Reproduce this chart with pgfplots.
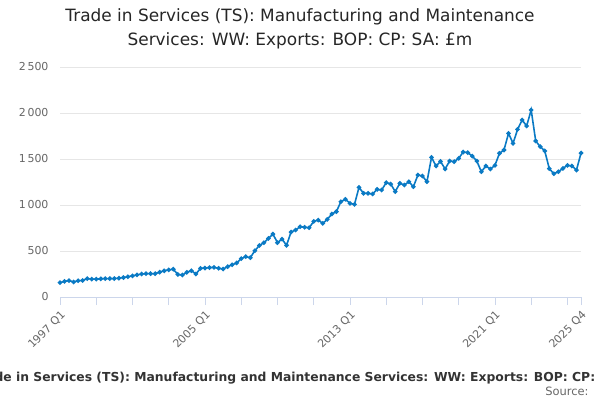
\documentclass[border=0pt]{standalone}
\usepackage{pgfplots}
\pgfplotsset{compat=1.18}
\usepackage{fontspec}
\setmainfont{DejaVu Sans}
\definecolor{ln}{RGB}{10,122,196}
\definecolor{gr}{RGB}{230,230,230}
\definecolor{ax}{RGB}{204,214,235}
\definecolor{tx}{RGB}{102,102,102}
\begin{document}
\begin{tikzpicture}[x=1bp,y=1bp]
\useasboundingbox (0,0) rectangle (600,400);
\node[align=center,font=\fontsize{17}{24}\selectfont,text=black!85] at (300,371) {Trade in Services (TS): Manufacturing and Maintenance\\Services: WW: Exports: BOP: CP: SA: £m};
\node[font=\bfseries\fontsize{12.4}{14}\selectfont,text=black!80] at (311,22) {Trade in Services (TS): Manufacturing and Maintenance Services: WW: Exports: BOP: CP: SA: £m};
\node[anchor=east,font=\fontsize{11.5}{13}\selectfont,text=tx] at (592,9) {Source:};
\begin{axis}[at={(60bp,103bp)},anchor=south west,scale only axis,width=521bp,height=230bp,
 xmin=0,xmax=115,ymin=0,ymax=2500,enlargelimits=false,
 axis y line*=left, axis x line*=bottom, y axis line style={draw=none},
 x axis line style={ax,line width=0.8pt},
 ytick={0,500,1000,1500,2000,2500}, yticklabels={0,500,1\,000,1\,500,2\,000,2\,500},
 ymajorgrids, grid style={gr,line width=0.6pt}, ytick style={draw=none},
 xtick={0,32,64,96,115}, xticklabels={1997 Q1,2005 Q1,2013 Q1,2021 Q1,2025 Q4},
 minor xtick={8,16,24,40,48,56,72,80,88,104,112},
 xtick style={ax,line width=0.8pt}, tick align=outside, major tick length=8bp, minor tick length=8bp,
 minor x tick style={ax,line width=0.8pt},
 x tick label style={rotate=45,anchor=north east,font=\fontsize{11}{12}\selectfont,text=tx},
 y tick label style={font=\fontsize{11}{12}\selectfont,text=tx},
 /pgf/number format/assume math mode=true, clip=false]
\addplot[ln,line width=1.6pt,mark=*,mark size=1.4pt] table[x expr=\coordindex,y index=0] {
v
156
170
178
163
177
180
200
195
194
198
200
200
200
205
211
220
229
240
250
254
254
254
270
285
295
302
245
239
268
286
250
311
315
320
322
312
304
330
350
370
417
438
427
503
560
590
637
684
590
630
562
706
728
764
758
753
822
836
800
844
902
928
1036
1062
1018
1007
1192
1127
1127
1120
1170
1163
1243
1228
1145
1236
1217
1253
1199
1326
1315
1253
1518
1424
1474
1391
1478
1471
1507
1576
1569
1532
1478
1362
1424
1391
1431
1562
1598
1779
1670
1822
1924
1859
2033
1696
1634
1587
1395
1340
1362
1398
1431
1424
1380
1565
};
\end{axis}
\end{tikzpicture}
\end{document}
